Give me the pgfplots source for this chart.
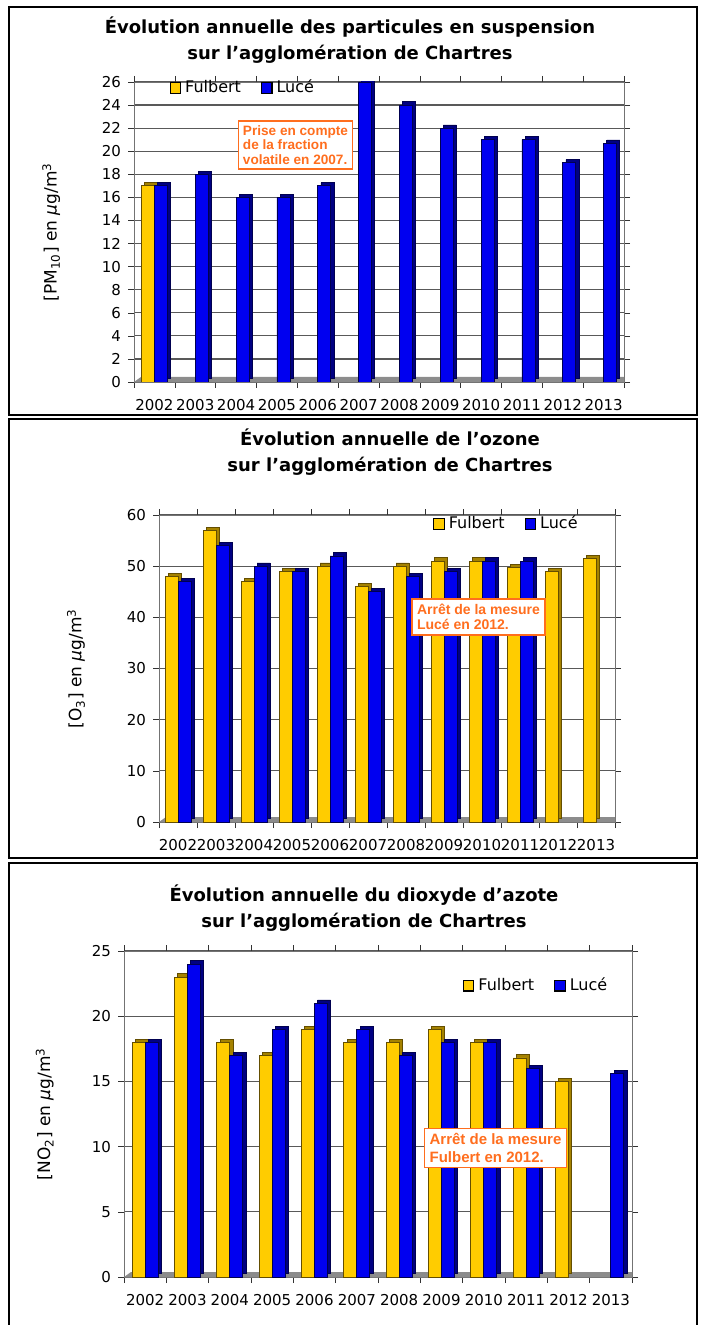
\documentclass[border=0pt]{standalone}
\usepackage{fontspec}
\setmainfont{DejaVu Sans}
\newfontfamily\arialb{Liberation Sans}
\usepackage{pgfplots}
\pgfplotsset{compat=1.18}
\definecolor{fy}{RGB}{255,204,0}
\definecolor{fyd}{RGB}{100,78,0}
\definecolor{fys}{RGB}{165,130,0}
\definecolor{lb}{RGB}{0,0,240}
\definecolor{lbd}{RGB}{0,0,80}
\definecolor{lbs}{RGB}{0,0,130}
\definecolor{orng}{RGB}{255,110,30}
\pgfplotsset{
  sqlegend/.style={legend image code/.code={\draw[##1,draw=black,line width=0.6pt] (0pt,-2.6pt) rectangle (5.2pt,2.6pt);}},
  fulb/.style={fill=fy, draw=fyd, bar shift=-3.25pt, sqlegend},
  luce/.style={fill=lb, draw=lbd, bar shift=3.25pt, sqlegend},
  fulbd/.style={fill=fys, draw=fyd, bar shift=-3.25pt, xshift=1.6pt, yshift=1.6pt, forget plot},
  luced/.style={fill=lbs, draw=lbd, bar shift=3.25pt, xshift=1.6pt, yshift=1.6pt, forget plot},
  panel/.style={
    scale only axis, ybar=0pt, bar width=6.5pt,
    xmin=-0.5, xmax=11.5, ymin=0,
    xtick={0,...,11},
    xticklabels={2002,2003,2004,2005,2006,2007,2008,2009,2010,2011,2012,2013},
    major x tick style={draw=none},
    minor xtick={-0.5,0.5,...,11.5},
    minor tick length=3pt, major tick length=3pt,
    tick align=outside,
    tick style={black!80},
    ymajorgrids, grid style={black!65, line width=0.6pt},
    axis line style={black!55},
    /pgf/number format/assume math mode=true,
    tick label style={font=\fontsize{7.5}{8}\selectfont},
    xticklabel style={yshift=-2pt},
    ylabel style={font=\fontsize{8.5}{10}\selectfont, anchor=center},
    legend style={draw=none, fill=none, font=\fontsize{8}{9}\selectfont,
      legend columns=2, /tikz/every even column/.append style={column sep=8pt},
      inner sep=0pt},
  }
}
\newcommand\floor{\fill[black!45] (rel axis cs:0,0) -- ++(3.5pt,2.5pt) -- ([xshift=3.5pt,yshift=2.5pt]rel axis cs:1,0) -- (rel axis cs:1,0) -- cycle;}
\begin{document}
\begin{tikzpicture}
\useasboundingbox (0,0) rectangle (351pt,-662.5pt);
% frames
\draw[line width=1.1pt] (4.5pt,-3.5pt) rectangle (348.5pt,-207.5pt);
\draw[line width=1.1pt] (4.5pt,-209.5pt) rectangle (348.5pt,-429pt);
\draw[line width=1.1pt] (4.5pt,-665pt) -- (4.5pt,-431.5pt) -- (348.5pt,-431.5pt) -- (348.5pt,-665pt);

% ---------- Panel 1: PM10
\begin{axis}[panel, at={(67pt,-191pt)}, anchor=south west, width=245pt, height=150pt,
  ymax=26, ytick={0,2,...,26},
  legend style={at={(0.224,0.98)}, anchor=center},
  ylabel={[PM\textsubscript{10}] en \textit{µ}g/m\textsuperscript{3}},
  ylabel style={at={(axis description cs:-0.169,0.5)}}]
\floor
\addplot[fulbd] coordinates {(0,17)};
\addplot[luced] coordinates {
(0,17) (1,18) (2,16) (3,16) (4,17) (5,26) (6,24) (7,22) (8,21) (9,21) (10,19) (11,20.7)};
\addplot[fulb] coordinates {(0,17)};
\addplot[luce] coordinates {
(0,17) (1,18) (2,16) (3,16) (4,17) (5,26) (6,24) (7,22) (8,21) (9,21) (10,19) (11,20.7)};
\legend{Fulbert, Lucé}
\end{axis}
\node[font=\bfseries\fontsize{9}{13}\selectfont, align=center] at (175pt,-20pt)
 {Évolution annuelle des particules en suspension\\sur l'agglomération de Chartres};
\node[draw=orng, fill=white, text=orng, line width=0.8pt, align=left, inner sep=2.2pt,
  font=\arialb\bfseries\fontsize{6.8}{7.3}\selectfont] at (147.75pt,-72.5pt)
 {Prise en compte\\de la fraction\\volatile en 2007.};

% ---------- Panel 2: O3
\begin{axis}[panel, at={(79.5pt,-411pt)}, anchor=south west, width=228pt, height=153.5pt,
  ymax=60, ytick={0,10,...,60},
  legend style={at={(0.764,0.971)}, anchor=center},
  ylabel={[O\textsubscript{3}] en \textit{µ}g/m\textsuperscript{3}},
  ylabel style={at={(axis description cs:-0.182,0.5)}}]
\floor
\addplot[fulbd] coordinates {
(0,48) (1,57) (2,47) (3,49) (4,50) (5,46) (6,50) (7,51) (8,51) (9,49.7) (10,49) (11,51.5)};
\addplot[luced] coordinates {
(0,47) (1,54) (2,50) (3,49) (4,52) (5,45) (6,48) (7,49) (8,51) (9,51)};
\addplot[fulb] coordinates {
(0,48) (1,57) (2,47) (3,49) (4,50) (5,46) (6,50) (7,51) (8,51) (9,49.7) (10,49) (11,51.5)};
\addplot[luce] coordinates {
(0,47) (1,54) (2,50) (3,49) (4,52) (5,45) (6,48) (7,49) (8,51) (9,51)};
\legend{Fulbert, Lucé}
\end{axis}
\node[font=\bfseries\fontsize{9}{13}\selectfont, align=center] at (195pt,-226.25pt)
 {Évolution annuelle de l'ozone\\sur l'agglomération de Chartres};
\node[draw=orng, fill=white, text=orng, line width=0.8pt, align=left, inner sep=2.5pt,
  font=\arialb\bfseries\fontsize{7}{7.5}\selectfont] at (239.25pt,-308.5pt)
 {Arrêt de la mesure\\Lucé en 2012.};

% ---------- Panel 3: NO2
\begin{axis}[panel, at={(62pt,-638.5pt)}, anchor=south west, width=254pt, height=163pt,
  ymax=25, ytick={0,5,...,25},
  legend style={at={(0.813,0.893)}, anchor=center},
  ylabel={[NO\textsubscript{2}] en \textit{µ}g/m\textsuperscript{3}},
  ylabel style={at={(axis description cs:-0.156,0.5)}}]
\floor
\addplot[fulbd] coordinates {
(0,18) (1,23) (2,18) (3,17) (4,19) (5,18) (6,18) (7,19) (8,18) (9,16.8) (10,15)};
\addplot[luced] coordinates {
(0,18) (1,24) (2,17) (3,19) (4,21) (5,19) (6,17) (7,18) (8,18) (9,16) (11,15.6)};
\addplot[fulb] coordinates {
(0,18) (1,23) (2,18) (3,17) (4,19) (5,18) (6,18) (7,19) (8,18) (9,16.8) (10,15)};
\addplot[luce] coordinates {
(0,18) (1,24) (2,17) (3,19) (4,21) (5,19) (6,17) (7,18) (8,18) (9,16) (11,15.6)};
\legend{Fulbert, Lucé}
\end{axis}
\node[font=\bfseries\fontsize{9}{13}\selectfont, align=center] at (182pt,-454pt)
 {Évolution annuelle du dioxyde d'azote\\sur l'agglomération de Chartres};
\node[draw=orng, fill=white, text=orng, line width=0.8pt, align=left, inner sep=2.5pt,
  font=\arialb\bfseries\fontsize{7.5}{9}\selectfont] at (247.75pt,-574pt)
 {Arrêt de la mesure\\Fulbert en 2012.};
\end{tikzpicture}
\end{document}
